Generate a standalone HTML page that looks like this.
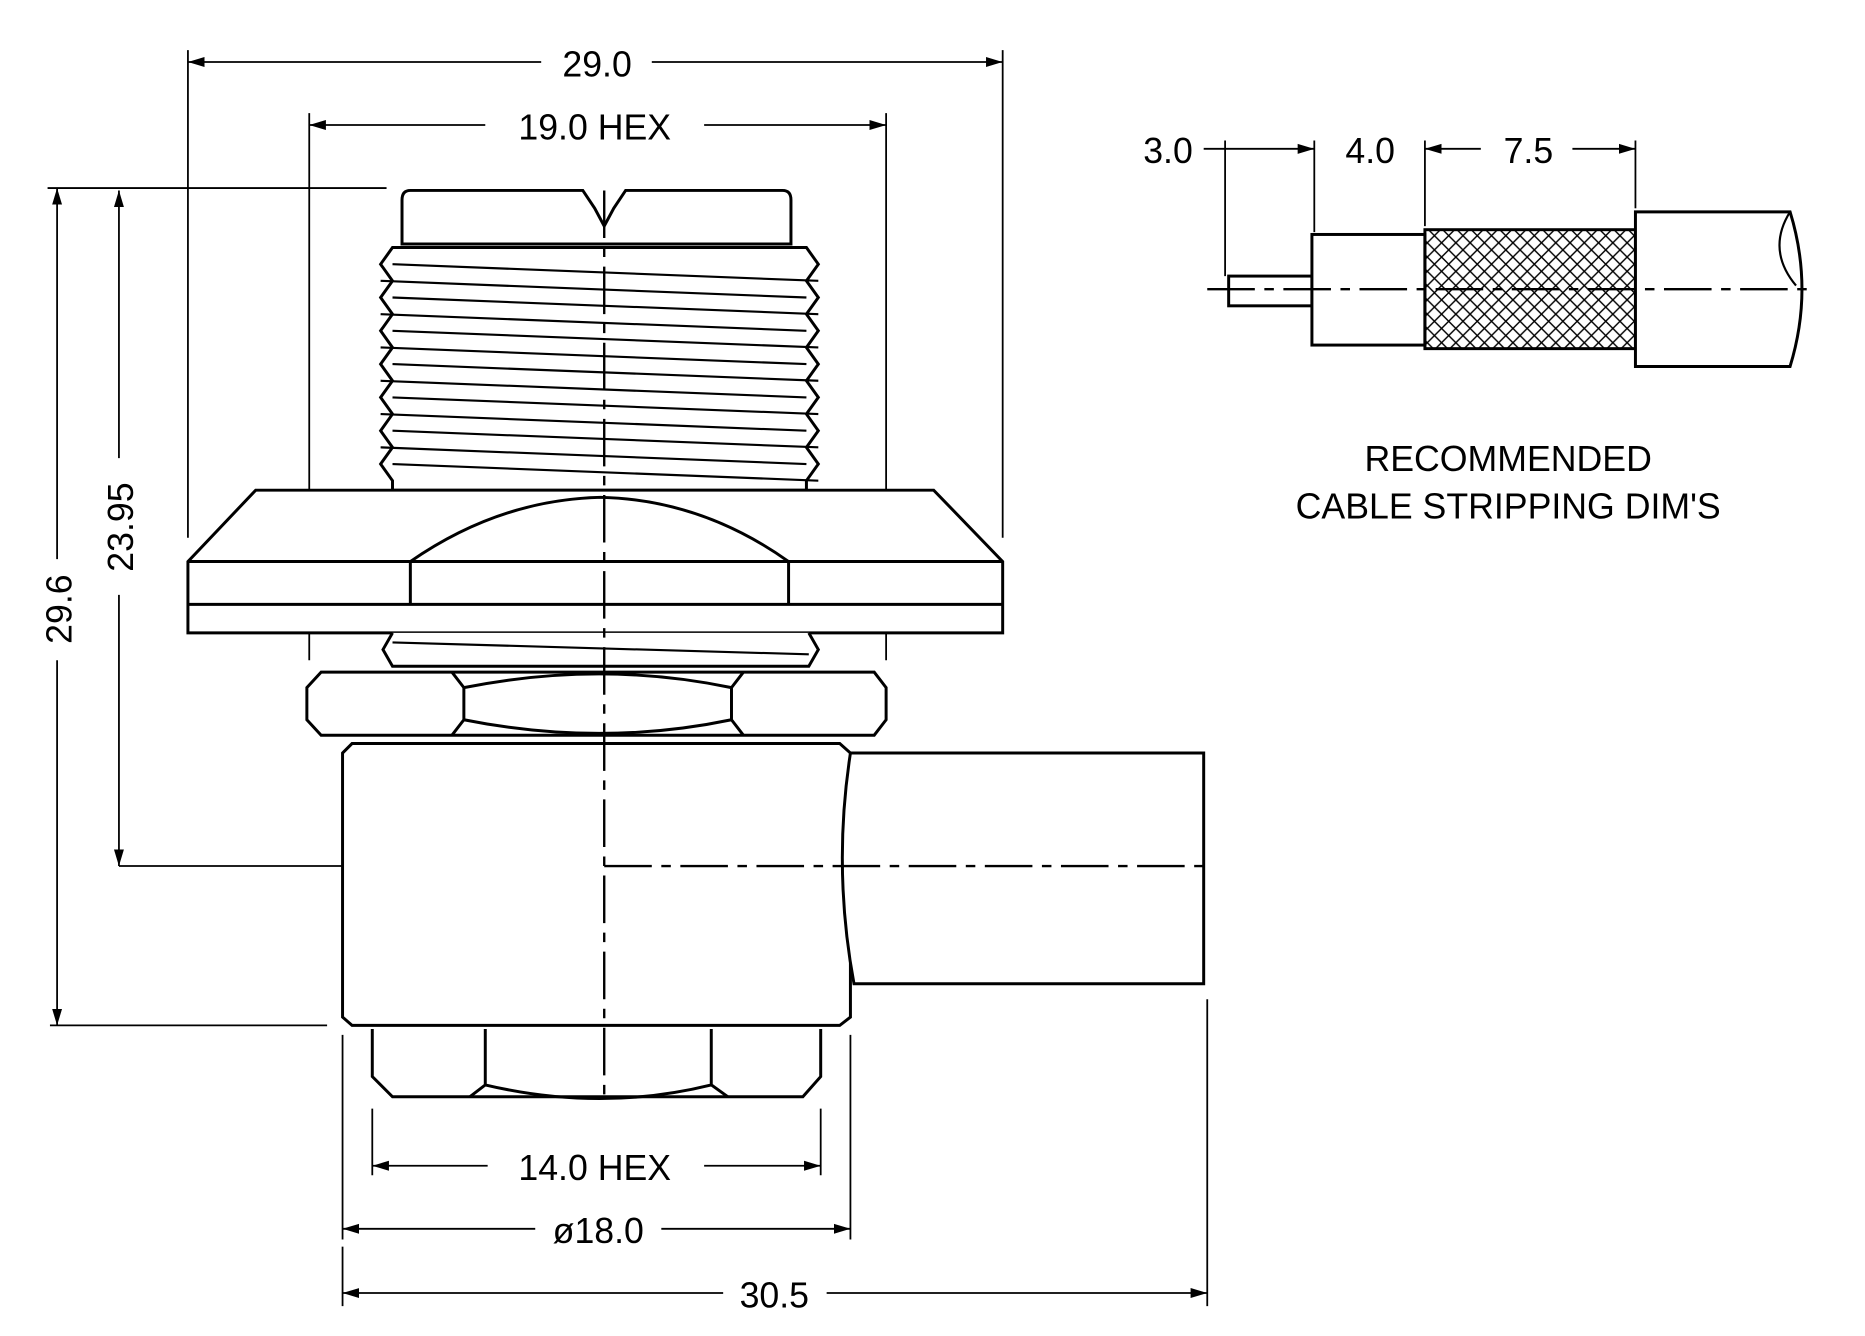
<!DOCTYPE html>
<html><head><meta charset="utf-8"><style>
html,body{margin:0;padding:0;background:#fff;}
svg{display:block;}
text{font-family:"Liberation Sans",sans-serif;font-size:30px;fill:#000;}
</style></head><body>
<svg width="1865" height="1336" viewBox="0 0 1568 1123" xmlns="http://www.w3.org/2000/svg">
<defs>
<marker id="a" viewBox="0 0 10 10" refX="10" refY="5" markerWidth="14" markerHeight="14" markerUnits="userSpaceOnUse" orient="auto-start-reverse"><path d="M0,2 L10,5 L0,8 Z" fill="#000"/></marker>
<pattern id="x" width="12" height="12" patternUnits="userSpaceOnUse"><path d="M0,0 L12,12 M12,0 L0,12" stroke="#000" stroke-width="1.2"/></pattern>
</defs>
<rect width="1568" height="1123" fill="#fff"/>
<g stroke="#000" stroke-width="2.5" fill="none">
<!-- extension lines -->
<line x1="158" y1="42" x2="158" y2="452" stroke-width="1.5"/>
<line x1="843" y1="42" x2="843" y2="452" stroke-width="1.5"/>
<line x1="260" y1="95" x2="260" y2="555" stroke-width="1.5"/>
<line x1="745" y1="95" x2="745" y2="555" stroke-width="1.5"/>
<line x1="40" y1="158" x2="325" y2="158" stroke-width="1.5"/>
<line x1="42" y1="862" x2="275" y2="862" stroke-width="1.5"/>
<line x1="313" y1="932" x2="313" y2="988" stroke-width="1.5"/>
<line x1="690" y1="932" x2="690" y2="988" stroke-width="1.5"/>
<line x1="288" y1="870" x2="288" y2="1042" stroke-width="1.5"/>
<line x1="715" y1="870" x2="715" y2="1042" stroke-width="1.5"/>
<line x1="288" y1="1048" x2="288" y2="1098" stroke-width="1.5"/>
<line x1="1015" y1="840" x2="1015" y2="1098" stroke-width="1.5"/>
<!-- dimension lines -->
<line x1="158" y1="52" x2="455" y2="52" stroke-width="1.5" marker-start="url(#a)"/>
<line x1="548" y1="52" x2="843" y2="52" stroke-width="1.5" marker-end="url(#a)"/>
<line x1="260" y1="105" x2="408" y2="105" stroke-width="1.5" marker-start="url(#a)"/>
<line x1="592" y1="105" x2="745" y2="105" stroke-width="1.5" marker-end="url(#a)"/>
<line x1="313" y1="980" x2="410" y2="980" stroke-width="1.5" marker-start="url(#a)"/>
<line x1="592" y1="980" x2="690" y2="980" stroke-width="1.5" marker-end="url(#a)"/>
<line x1="288" y1="1033" x2="450" y2="1033" stroke-width="1.5" marker-start="url(#a)"/>
<line x1="556" y1="1033" x2="715" y2="1033" stroke-width="1.5" marker-end="url(#a)"/>
<line x1="288" y1="1087" x2="608" y2="1087" stroke-width="1.5" marker-start="url(#a)"/>
<line x1="695" y1="1087" x2="1015" y2="1087" stroke-width="1.5" marker-end="url(#a)"/>
<line x1="48" y1="158" x2="48" y2="470" stroke-width="1.5" marker-start="url(#a)"/>
<line x1="48" y1="555" x2="48" y2="862" stroke-width="1.5" marker-end="url(#a)"/>
<line x1="100" y1="160" x2="100" y2="385" stroke-width="1.5" marker-start="url(#a)"/>
<line x1="100" y1="500" x2="100" y2="728" stroke-width="1.5" marker-end="url(#a)"/>
<line x1="100" y1="728" x2="480" y2="728" stroke-width="1.5"/>
<!-- top hex -->
<path d="M345,160 H490 L500,175 L508,190 L516,175 L526,160 H658 Q665,160 665,168 V205 H338 V168 Q338,160 345,160 Z" fill="#fff"/>
<!-- threads -->
<path d="M330,208 H678 L688,222 L678,236 L688,250 L678,264 L688,278 L678,292 L688,306 L678,320 L688,334 L678,348 L688,362 L678,376 L688,390 L678,404 L678,412 H330 L330,404 L320,390 L330,376 L320,362 L330,348 L320,334 L330,320 L320,306 L330,292 L320,278 L330,264 L320,250 L330,236 L320,222 Z" fill="#fff"/>
<g stroke-width="1.8">
<line x1="330" y1="222" x2="688" y2="236"/><line x1="320" y1="236" x2="678" y2="250"/>
<line x1="330" y1="250" x2="688" y2="264"/><line x1="320" y1="264" x2="678" y2="278"/>
<line x1="330" y1="278" x2="688" y2="292"/><line x1="320" y1="292" x2="678" y2="306"/>
<line x1="330" y1="306" x2="688" y2="320"/><line x1="320" y1="320" x2="678" y2="334"/>
<line x1="330" y1="334" x2="688" y2="348"/><line x1="320" y1="348" x2="678" y2="362"/>
<line x1="330" y1="362" x2="688" y2="376"/><line x1="320" y1="376" x2="678" y2="390"/>
<line x1="330" y1="390" x2="688" y2="404"/>
</g>
<!-- flange -->
<path d="M215,412 H785 L843,472 V532 H158 V472 Z" fill="#fff"/>
<line x1="158" y1="472" x2="843" y2="472"/>
<line x1="158" y1="508" x2="843" y2="508"/>
<path d="M345,508 V472 Q420,420 505,418 Q590,420 663,472 V508"/>
<!-- lower thread -->
<path d="M330,532 L322,546 L330,560 H680 L688,546 L680,532" fill="#fff"/>
<line x1="330" y1="540" x2="680" y2="550" stroke-width="1.8"/>
<!-- nut -->
<path d="M270,565 H735 L745,578 V605 L735,618 H270 L258,605 V578 Z" fill="#fff"/>
<path d="M380,565 L390,578 V605 L380,618 M625,565 L615,578 V605 L625,618 M390,578 Q505,555 615,578 M390,605 Q505,628 615,605"/>
<!-- body -->
<path d="M296,625 H706 L715,633 V855 L706,862 H296 L288,855 V633 Z" fill="#fff"/>
<path d="M715,633 H1012 V827 H718 Q700,730 715,633" fill="#fff"/>
<!-- bottom hex -->
<path d="M313,865 V905 L330,922 H675 L690,905 V865"/>
<path d="M408,865 V912 L395,922 M598,865 V912 L612,922 M408,912 Q505,935 598,912"/>
<!-- centerlines -->
<line x1="508" y1="160" x2="508" y2="925" stroke-dasharray="40,8,8,8" stroke-width="2"/>
<line x1="508" y1="728" x2="1012" y2="728" stroke-dasharray="40,8,8,8" stroke-width="2"/>
<!-- cable -->
<rect x="1033" y="232" width="70" height="25" fill="#fff"/>
<rect x="1103" y="197" width="95" height="93" fill="#fff"/>
<rect x="1198" y="193" width="177" height="100" fill="url(#x)"/>
<path d="M1375,178 H1505 Q1525,243 1505,308 H1375 Z" fill="#fff"/>
<path d="M1505,178 Q1485,210 1510,240" stroke-width="1.8"/>
<line x1="1015" y1="243" x2="1525" y2="243" stroke-dasharray="40,8,8,8" stroke-width="2"/>
<line x1="1030" y1="118" x2="1030" y2="232" stroke-width="1.5"/>
<line x1="1105" y1="118" x2="1105" y2="195" stroke-width="1.5"/>
<line x1="1198" y1="118" x2="1198" y2="190" stroke-width="1.5"/>
<line x1="1375" y1="118" x2="1375" y2="175" stroke-width="1.5"/>
<line x1="1012" y1="125" x2="1030" y2="125" stroke-width="1.5"/>
<line x1="1030" y1="125" x2="1105" y2="125" stroke-width="1.5" marker-end="url(#a)"/>
<line x1="1198" y1="125" x2="1245" y2="125" stroke-width="1.5" marker-start="url(#a)"/>
<line x1="1322" y1="125" x2="1375" y2="125" stroke-width="1.5" marker-end="url(#a)"/>
</g>
<text x="502" y="64" text-anchor="middle">29.0</text>
<text x="500" y="117" text-anchor="middle">19.0  HEX</text>
<text x="500" y="992" text-anchor="middle">14.0  HEX</text>
<text x="503" y="1045" text-anchor="middle">ø18.0</text>
<text x="651" y="1099" text-anchor="middle">30.5</text>
<text transform="translate(60,512) rotate(-90)" text-anchor="middle">29.6</text>
<text transform="translate(112,443) rotate(-90)" text-anchor="middle">23.95</text>
<text x="982" y="137" text-anchor="middle">3.0</text>
<text x="1152" y="137" text-anchor="middle">4.0</text>
<text x="1285" y="137" text-anchor="middle">7.5</text>
<text x="1268" y="396" text-anchor="middle">RECOMMENDED</text>
<text x="1268" y="436" text-anchor="middle">CABLE  STRIPPING  DIM'S</text>
</svg>
</body></html>
